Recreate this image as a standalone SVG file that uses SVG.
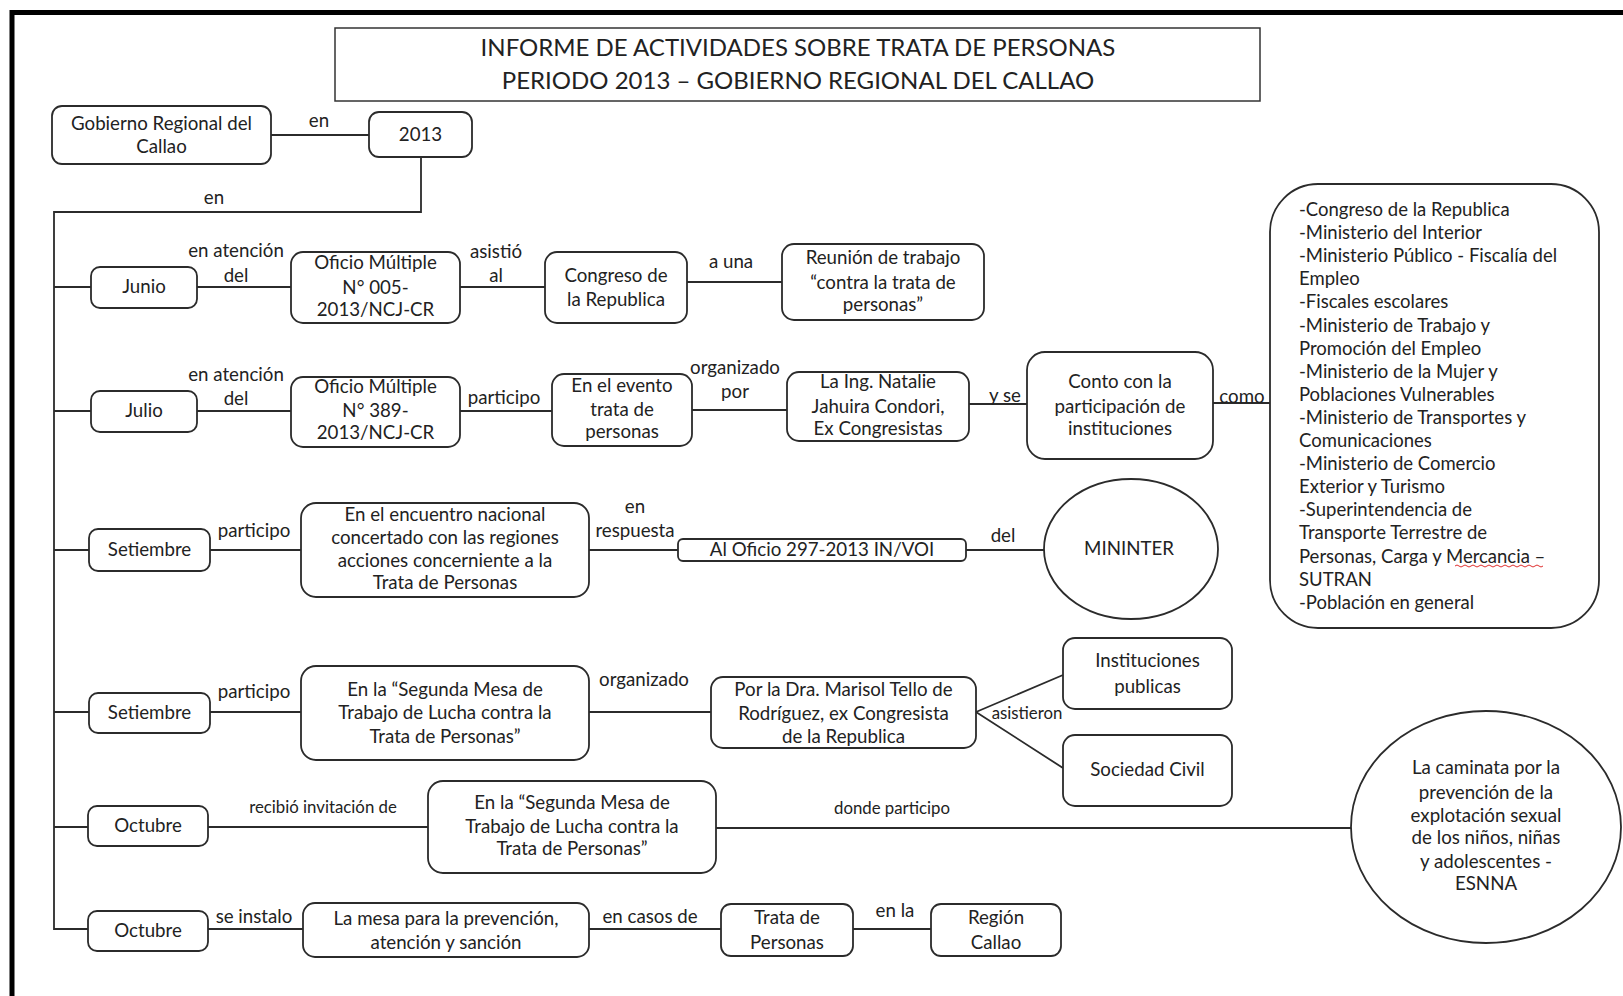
<svg xmlns="http://www.w3.org/2000/svg" width="1623" height="996" viewBox="0 0 1623 996">
<style>
.bx{fill:#fff;stroke:#2b2b2b;stroke-width:1.8}
.ln{fill:none;stroke:#2b2b2b;stroke-width:1.8}
text{font-family:Lato,"Open Sans","Liberation Sans",sans-serif;fill:#222}
.t{font-size:18.7px;text-anchor:middle}
.s{font-size:16.8px;text-anchor:middle}
.l{font-size:18.5px;text-anchor:start}
.h{font-size:24px;text-anchor:middle}
</style>
<rect width="1623" height="996" fill="#fff"/>
<path d="M12,996 V12.5 H1623" fill="none" stroke="#000" stroke-width="5"/>
<g id="title">
<rect x="335" y="28" width="925" height="73" fill="#fff" stroke="#333" stroke-width="1.5"/>
<text class="h" x="798" y="56">INFORME DE ACTIVIDADES SOBRE TRATA DE PERSONAS</text>
<text class="h" x="798" y="89">PERIODO 2013 – GOBIERNO REGIONAL DEL CALLAO</text>
</g>
<g id="connectors">
<path class="ln" d="M271,135 H369"/>
<path class="ln" d="M421,157 V212 H54 V929 H88"/>
<path class="ln" d="M54,287 H91 M197,287 H291 M460,287 H545 M687,282 H782"/>
<path class="ln" d="M54,411 H91 M197,411 H291 M460,411 H552 M692,410 H787 M969,404 H1027 M1213,403 H1270"/>
<path class="ln" d="M54,550 H89 M210,550 H301 M589,550 H678 M966,550 H1044"/>
<path class="ln" d="M54,712 H89 M210,712 H301 M589,712 H711 M976,712 L1063,675 M976,712 L1063,768"/>
<path class="ln" d="M54,827 H88 M208,827 H428 M716,828 H1351"/>
<path class="ln" d="M208,929 H303 M589,929 H721 M853,929 H931"/>
<text class="t" x="319" y="127">en</text>
<text class="t" x="214" y="204">en</text>
<text class="t" x="236" y="257">en atención</text>
<text class="t" x="236" y="282">del</text>
<text class="t" x="496" y="258">asistió</text>
<text class="t" x="496" y="282">al</text>
<text class="t" x="731" y="268">a una</text>
<text class="t" x="236" y="381">en atención</text>
<text class="t" x="236" y="405">del</text>
<text class="t" x="504" y="404">participo</text>
<text class="t" x="735" y="374">organizado</text>
<text class="t" x="735" y="398">por</text>
<text class="t" x="1005" y="402">y se</text>
<text class="t" x="1242" y="403">como</text>
<text class="t" x="254" y="537">participo</text>
<text class="t" x="635" y="513">en</text>
<text class="t" x="635" y="537">respuesta</text>
<text class="t" x="1003" y="542">del</text>
<text class="t" x="254" y="698">participo</text>
<text class="t" x="644" y="686">organizado</text>
<text class="s" x="1027" y="719">asistieron</text>
<text class="s" x="323" y="813">recibió invitación de</text>
<text class="s" x="892" y="814">donde participo</text>
<text class="t" x="254" y="923">se instalo</text>
<text class="t" x="650" y="923">en casos de</text>
<text class="t" x="895" y="917">en la</text>
</g>
<g id="n-gobierno"><rect class="bx" x="52" y="106" width="219" height="58" rx="10"/><text class="t" x="161.5" y="130">Gobierno Regional del</text><text class="t" x="161.5" y="153">Callao</text></g>
<g id="n-2013"><rect class="bx" x="369" y="112" width="103" height="45" rx="10"/><text class="t" x="420.5" y="141">2013</text></g>
<g id="n-junio"><rect class="bx" x="91" y="267" width="106" height="41" rx="9"/><text class="t" x="144" y="293">Junio</text></g>
<g id="n-oficio005"><rect class="bx" x="291" y="252" width="169" height="71" rx="12"/><text class="t" x="375.5" y="269">Oficio Múltiple</text><text class="t" x="375.5" y="294">N° 005-</text><text class="t" x="375.5" y="316">2013/NCJ-CR</text></g>
<g id="n-congreso"><rect class="bx" x="545" y="252" width="142" height="71" rx="12"/><text class="t" x="616" y="282">Congreso de</text><text class="t" x="616" y="306">la Republica</text></g>
<g id="n-reunion"><rect class="bx" x="782" y="244" width="202" height="76" rx="12"/><text class="t" x="883" y="264">Reunión de trabajo</text><text class="t" x="883" y="289">“contra la trata de</text><text class="t" x="883" y="311">personas”</text></g>
<g id="n-julio"><rect class="bx" x="91" y="391" width="106" height="41" rx="9"/><text class="t" x="144" y="417">Julio</text></g>
<g id="n-oficio389"><rect class="bx" x="291" y="377" width="169" height="70" rx="12"/><text class="t" x="375.5" y="393">Oficio Múltiple</text><text class="t" x="375.5" y="417">N° 389-</text><text class="t" x="375.5" y="439">2013/NCJ-CR</text></g>
<g id="n-evento"><rect class="bx" x="552" y="374" width="140" height="72" rx="12"/><text class="t" x="622" y="392">En el evento</text><text class="t" x="622" y="416">trata de</text><text class="t" x="622" y="438">personas</text></g>
<g id="n-natalie"><rect class="bx" x="787" y="372" width="182" height="69" rx="12"/><text class="t" x="878" y="388">La Ing. Natalie</text><text class="t" x="878" y="413">Jahuira Condori,</text><text class="t" x="878" y="435">Ex Congresistas</text></g>
<g id="n-conto"><rect class="bx" x="1027" y="352" width="186" height="107" rx="18"/><text class="t" x="1120" y="388">Conto con la</text><text class="t" x="1120" y="413">participación de</text><text class="t" x="1120" y="435">instituciones</text></g>
<g id="n-instituciones-lista">
<rect class="bx" x="1270" y="184" width="329" height="444" rx="48"/>
<text class="l" x="1299" y="216">-Congreso de la Republica</text>
<text class="l" x="1299" y="239.1">-Ministerio del Interior</text>
<text class="l" x="1299" y="262.2">-Ministerio Público - Fiscalía del</text>
<text class="l" x="1299" y="285.3">Empleo</text>
<text class="l" x="1299" y="308.4">-Fiscales escolares</text>
<text class="l" x="1299" y="331.5">-Ministerio de Trabajo y</text>
<text class="l" x="1299" y="354.6">Promoción del Empleo</text>
<text class="l" x="1299" y="377.7">-Ministerio de la Mujer y</text>
<text class="l" x="1299" y="400.8">Poblaciones Vulnerables</text>
<text class="l" x="1299" y="423.9">-Ministerio de Transportes y</text>
<text class="l" x="1299" y="447">Comunicaciones</text>
<text class="l" x="1299" y="470.1">-Ministerio de Comercio</text>
<text class="l" x="1299" y="493.2">Exterior y Turismo</text>
<text class="l" x="1299" y="516.3">-Superintendencia de</text>
<text class="l" x="1299" y="539.4">Transporte Terrestre de</text>
<text class="l" x="1299" y="562.5">Personas, Carga y Mercancia –</text>
<text class="l" x="1299" y="585.6">SUTRAN</text>
<text class="l" x="1299" y="608.7">-Población en general</text>
<path d="M1455,566 q2,-2 4,0 t4,0 t4,0 t4,0 t4,0 t4,0 t4,0 t4,0 t4,0 t4,0 t4,0 t4,0 t4,0 t4,0 t4,0 t4,0 t4,0 t4,0 t4,0 t4,0 t4,0 t4,0" fill="none" stroke="#e03030" stroke-width="1"/>
</g>
<g id="n-setiembre1"><rect class="bx" x="89" y="529" width="121" height="42" rx="9"/><text class="t" x="149.5" y="556">Setiembre</text></g>
<g id="n-encuentro"><rect class="bx" x="301" y="503" width="288" height="94" rx="15"/><text class="t" x="445" y="521">En el encuentro nacional</text><text class="t" x="445" y="544">concertado con las regiones</text><text class="t" x="445" y="567">acciones concerniente a la</text><text class="t" x="445" y="589">Trata de Personas</text></g>
<g id="n-aloficio"><rect class="bx" x="678" y="539" width="288" height="22" rx="5"/><text class="t" x="822" y="556">Al Oficio 297-2013 IN/VOI</text></g>
<g id="n-mininter"><ellipse class="bx" cx="1131" cy="549" rx="87" ry="70"/><text class="t" x="1129" y="555">MININTER</text></g>
<g id="n-setiembre2"><rect class="bx" x="89" y="693" width="121" height="40" rx="9"/><text class="t" x="149.5" y="719">Setiembre</text></g>
<g id="n-segunda1"><rect class="bx" x="301" y="666" width="288" height="94" rx="15"/><text class="t" x="445" y="696">En la “Segunda Mesa de</text><text class="t" x="445" y="719">Trabajo de Lucha contra la</text><text class="t" x="445" y="743">Trata de Personas”</text></g>
<g id="n-marisol"><rect class="bx" x="711" y="677" width="265" height="71" rx="12"/><text class="t" x="843.5" y="696">Por la Dra. Marisol Tello de</text><text class="t" x="843.5" y="720">Rodríguez, ex Congresista</text><text class="t" x="843.5" y="743">de la Republica</text></g>
<g id="n-publicas"><rect class="bx" x="1063" y="638" width="169" height="71" rx="12"/><text class="t" x="1147.5" y="667">Instituciones</text><text class="t" x="1147.5" y="693">publicas</text></g>
<g id="n-civil"><rect class="bx" x="1063" y="735" width="169" height="71" rx="12"/><text class="t" x="1147.5" y="776">Sociedad Civil</text></g>
<g id="n-octubre1"><rect class="bx" x="88" y="806" width="120" height="40" rx="9"/><text class="t" x="148" y="832">Octubre</text></g>
<g id="n-segunda2"><rect class="bx" x="428" y="781" width="288" height="92" rx="15"/><text class="t" x="572" y="809">En la “Segunda Mesa de</text><text class="t" x="572" y="833">Trabajo de Lucha contra la</text><text class="t" x="572" y="855">Trata de Personas”</text></g>
<g id="n-esnna"><ellipse class="bx" cx="1486" cy="827" rx="135" ry="116"/><text class="t" x="1486" y="774">La caminata por la</text><text class="t" x="1486" y="799">prevención de la</text><text class="t" x="1486" y="822">explotación sexual</text><text class="t" x="1486" y="844">de los niños, niñas</text><text class="t" x="1486" y="868">y adolescentes -</text><text class="t" x="1486" y="890">ESNNA</text></g>
<g id="n-octubre2"><rect class="bx" x="88" y="911" width="120" height="40" rx="9"/><text class="t" x="148" y="937">Octubre</text></g>
<g id="n-mesa"><rect class="bx" x="303" y="903" width="286" height="54" rx="12"/><text class="t" x="446" y="925">La mesa para la prevención,</text><text class="t" x="446" y="949">atención y sanción</text></g>
<g id="n-trata"><rect class="bx" x="721" y="904" width="132" height="52" rx="10"/><text class="t" x="787" y="924">Trata de</text><text class="t" x="787" y="949">Personas</text></g>
<g id="n-region"><rect class="bx" x="931" y="904" width="130" height="52" rx="10"/><text class="t" x="996" y="924">Región</text><text class="t" x="996" y="949">Callao</text></g>
</svg>
